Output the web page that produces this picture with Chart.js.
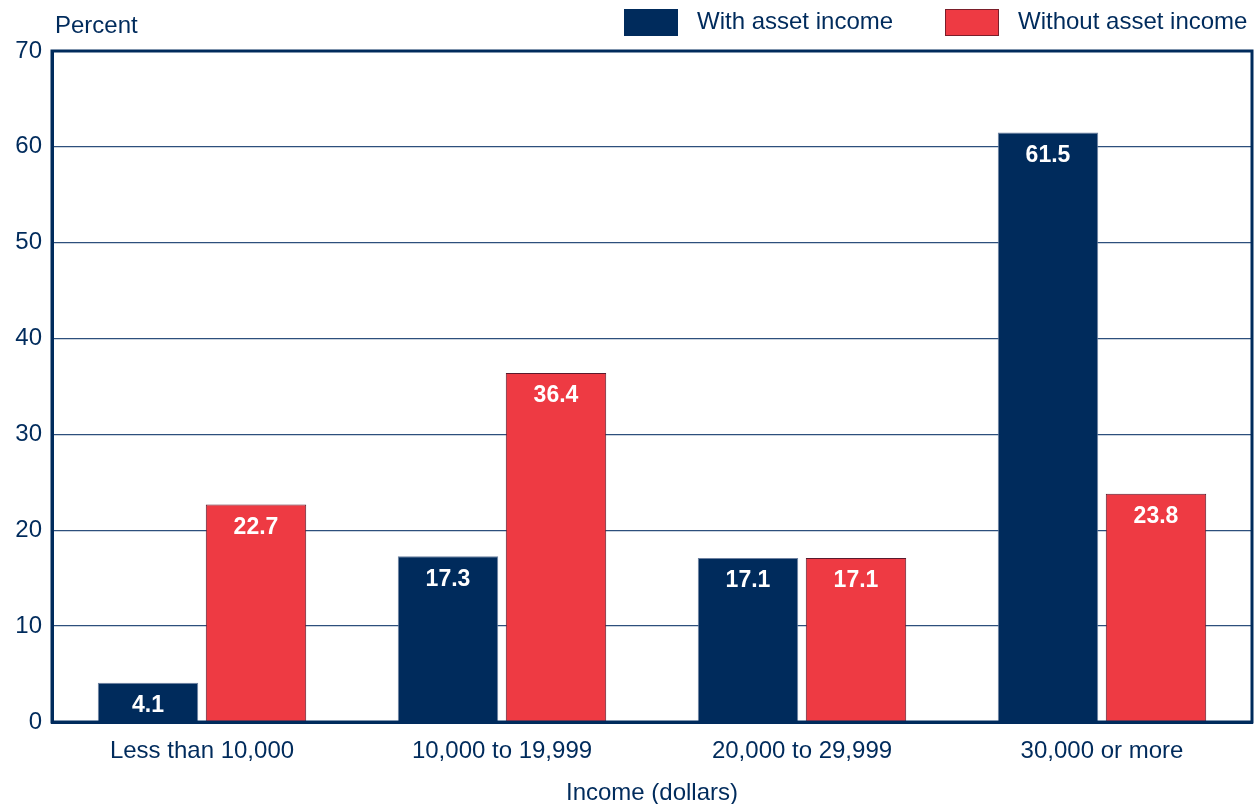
<!DOCTYPE html>
<html lang="en">
<head>
    <meta charset="UTF-8">
    <title>Asset income by income</title>
    <script src="https://cdn.jsdelivr.net/npm/chart.js"></script>
    <style>
        html, body { margin: 0; padding: 0; background: #fff; }
        .wrap { width: 1255px; height: 804px; position: relative; }
    </style>
</head>
<body>
<div class="wrap"><canvas id="incomeChart"></canvas></div>
<script>
    const categories = ['Less than 10,000', '10,000 to 19,999', '20,000 to 29,999', '30,000 or more'];
    const withAsset = [4.1, 17.3, 17.1, 61.5];
    const withoutAsset = [22.7, 36.4, 17.1, 23.8];
    const seriesNames = ['With asset income', 'Without asset income'];
    const yTicks = [0, 10, 20, 30, 40, 50, 60, 70];

    const NAVY = '#002b5c';
    const RED = '#ee3a43';
    const FONT = '"Liberation Sans", Arial, sans-serif';

    // value labels inside the top of each bar, plus frame, "Percent" and legend
    const extras = {
        id: 'extras',
        afterDatasetsDraw(chart) {
            const ctx = chart.ctx;
            ctx.save();
            ctx.fillStyle = '#fff';
            ctx.font = 'bold 23px ' + FONT;
            ctx.textAlign = 'center';
            ctx.textBaseline = 'middle';
            chart.data.datasets.forEach((ds, i) => {
                chart.getDatasetMeta(i).data.forEach((bar, j) => {
                    ctx.fillText(ds.data[j].toFixed(1), bar.x, bar.y + 23);
                });
            });
            ctx.restore();
        },
        afterDraw(chart) {
            const { ctx, chartArea: a } = chart;
            ctx.save();
            ctx.strokeStyle = NAVY;
            ctx.lineWidth = 3;
            ctx.strokeRect(a.left, a.top, a.right - a.left, a.bottom - a.top);

            ctx.fillStyle = NAVY;
            ctx.font = '24px ' + FONT;
            ctx.textBaseline = 'middle';
            ctx.textAlign = 'left';
            ctx.fillText('Percent', 55, 26);

            const legendX = [624, 945];
            chart.data.datasets.forEach((ds, i) => {
                ctx.fillStyle = ds.backgroundColor;
                ctx.fillRect(legendX[i], 9, 54, 27);
                ctx.strokeStyle = i === 1 ? '#7a1e2a' : NAVY;
                ctx.lineWidth = 1;
                ctx.strokeRect(legendX[i] + 0.5, 9.5, 53, 26);
                ctx.fillStyle = NAVY;
                ctx.fillText(ds.label, legendX[i] + 73, 22);
            });
            ctx.restore();
        }
    };

    new Chart(document.getElementById('incomeChart'), {
        type: 'bar',
        data: {
            labels: categories,
            datasets: [
                {
                    label: seriesNames[0],
                    data: withAsset,
                    backgroundColor: NAVY,
                    borderColor: '#6d81a0',
                    borderWidth: 1
                },
                {
                    label: seriesNames[1],
                    data: withoutAsset,
                    backgroundColor: RED,
                    borderColor: '#5a1a2c',
                    borderWidth: 1
                }
            ]
        },
        options: {
            responsive: true,
            maintainAspectRatio: false,
            animation: false,
            layout: { padding: { top: 51, right: 3, left: 0, bottom: 0 } },
            datasets: { bar: { categoryPercentage: 0.72, barPercentage: 0.93 } },
            plugins: {
                legend: { display: false },
                tooltip: { enabled: false }
            },
            scales: {
                x: {
                    grid: { display: false },
                    border: { color: NAVY, width: 3 },
                    ticks: {
                        color: NAVY,
                        font: { family: FONT, size: 24 },
                        padding: 7
                    },
                    title: {
                        display: true,
                        text: 'Income (dollars)',
                        color: NAVY,
                        font: { family: FONT, size: 24 },
                        padding: { top: 0, bottom: -4 }
                    },
                    afterFit(scale) { scale.height = 82; }
                },
                y: {
                    min: 0,
                    max: 70,
                    afterBuildTicks(scale) {
                        scale.ticks = yTicks.map(v => ({ value: v }));
                    },
                    grid: { color: '#2d4f7c', lineWidth: 1.3, drawTicks: false },
                    border: { color: NAVY, width: 3 },
                    ticks: {
                        color: NAVY,
                        font: { family: FONT, size: 24 },
                        padding: 10
                    },
                    afterFit(scale) { scale.width = 52; }
                }
            }
        },
        plugins: [extras]
    });
</script>
</body>
</html>
